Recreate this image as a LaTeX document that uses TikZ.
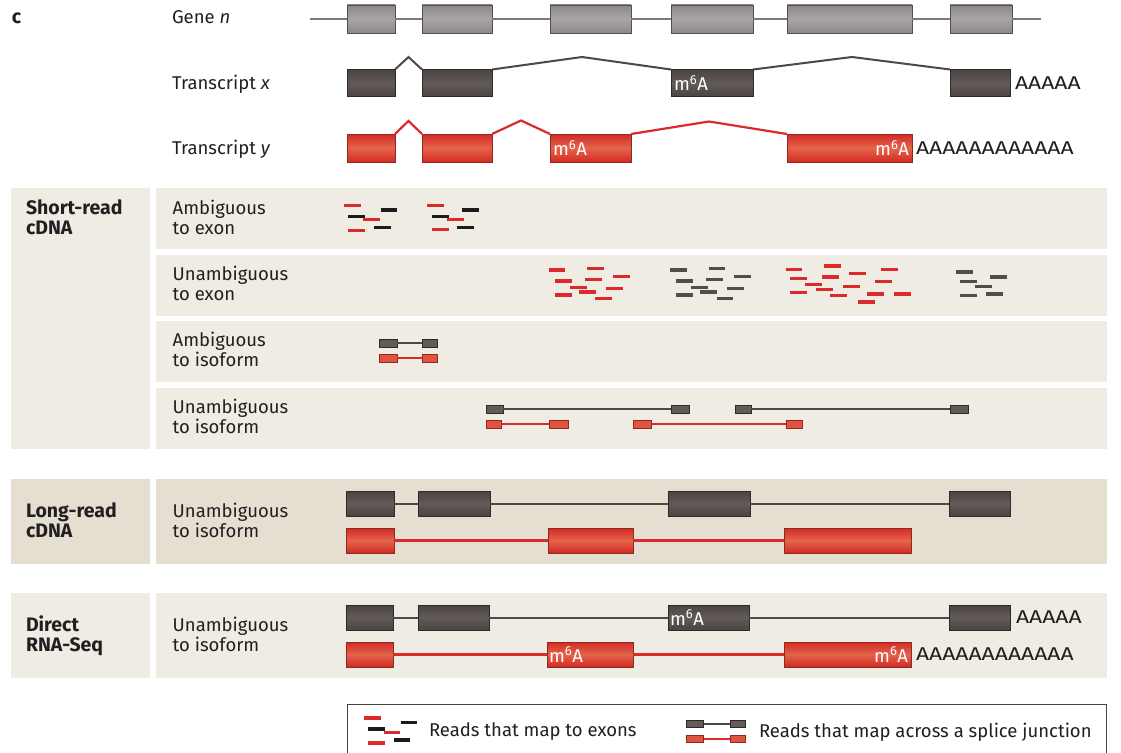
\documentclass[tikz,border=0pt]{standalone}
\usepackage{fontspec}
\usepackage{graphicx}
\setmainfont{Fira Sans}
\definecolor{panel}{HTML}{EFECE4}
\definecolor{panelB}{HTML}{E5DFD2}
\definecolor{txt}{HTML}{231F20}
\definecolor{gA}{HTML}{8C8887}\definecolor{gB}{HTML}{A9A5A4}\definecolor{gD}{HTML}{555151}
\definecolor{dA}{HTML}{4A4442}\definecolor{dB}{HTML}{625B58}\definecolor{dD}{HTML}{2E2A29}
\definecolor{rA}{HTML}{D22A24}\definecolor{rB}{HTML}{E4644C}\definecolor{rD}{HTML}{8E2A20}
\definecolor{lineG}{HTML}{7E7A79}
\definecolor{lineD}{HTML}{4E4846}
\definecolor{lineR}{HTML}{DA2A2A}
\definecolor{rdR}{HTML}{DC2A2C}
\definecolor{rdK}{HTML}{1C1B1B}
\definecolor{rdG}{HTML}{524C4A}
\newcommand\mainfs{\fontsize{18.5}{20}\selectfont}
\newcommand\boldfs{\fontsize{19.5}{20}\selectfont\bfseries}
\tikzset{
  every node/.style={font=\mainfs, text=txt, inner sep=0pt, outer sep=0pt},
  gexon/.style={draw=gD, line width=0.8pt, top color=gA, bottom color=gA, middle color=gB},
  dexon/.style={draw=dD, line width=0.8pt, top color=dA, bottom color=dA, middle color=dB},
  rexon/.style={draw=rD, line width=0.8pt, top color=rA, bottom color=rA, middle color=rB},
  sgbox/.style={draw=dD, line width=1pt, fill=dB},
  srbox/.style={draw=rD, line width=1pt, fill=rB!70!rA},
  gline/.style={lineG, line width=2pt},
  dline/.style={lineD, line width=2pt},
  rline/.style={lineR, line width=2.2pt},
  rdash/.style={rdR, line width=3.3pt},
  kdash/.style={rdK, line width=3.3pt},
  gdash/.style={rdG, line width=3.3pt},
  lbl/.style={anchor=base west, align=left},
  blbl/.style={anchor=base west, align=left, font=\boldfs},
  mlab/.style={text=white},
  polya/.style={anchor=west},
  legframe/.style={draw=txt!85, line width=1pt},
}
\newcommand\ex[6]{\node[#1, minimum width={#4-#3}, minimum height={#6-#5}] (#2) at ({(#3+#4)/2},{(#5+#6)/2}) {};}
\newcommand\dsh[3]{\draw[#1] (#2,#3) -- ++(16.5,0);}
\newcommand\patt[2]{\foreach \dx/\yy in {0/270,38.5/268.7,64.3/276.3,6.3/281,36.3/279.3,21.3/287.3,30.3/292,57.3/288.7,6.3/295,46.5/298.3}{\draw[#1] ({#2+\dx},\yy) -- ++(16.5,0);}}
\newcommand\msix{m\textsuperscript{6}A}
\newcommand\polyA[1]{\scalebox{1.24}[1]{#1}}
\begin{document}
\begin{tikzpicture}[x=1pt,y=-1pt]
\useasboundingbox (0,0) rectangle (1121,752);
% panels
\fill[panel] (11,188) rectangle (150,449);
\fill[panel] (156,188) rectangle (1107,249);
\fill[panel] (156,255) rectangle (1107,316);
\fill[panel] (156,321) rectangle (1107,382);
\fill[panel] (156,388) rectangle (1107,449);
\fill[panelB] (11,479) rectangle (150,564);
\fill[panelB] (156,479) rectangle (1107,564);
\fill[panel] (11,593) rectangle (150,678);
\fill[panel] (156,593) rectangle (1107,678);

% title / labels
\node[blbl] (c) at (12,24) {c};
\node[lbl] (lgene) at (172,24) {Gene \textit{n}};
\node[lbl] (ltx) at (172,89.5) {Transcript \textit{x}};
\node[lbl] (lty) at (172,154.5) {Transcript \textit{y}};

% gene n
\coordinate (gs) at (310,19);
\coordinate (ge) at (1041,19);
\ex{gexon}{g1}{347}{395}{5}{33}
\ex{gexon}{g2}{422}{492}{5}{33}
\ex{gexon}{g3}{550}{631}{5}{33}
\ex{gexon}{g4}{671}{753}{5}{33}
\ex{gexon}{g5}{787}{912}{5}{33}
\ex{gexon}{g6}{950}{1012}{5}{33}
\draw[gline] (gs) -- (g1.west) (g1.east) -- (g2.west) (g2.east) -- (g3.west) (g3.east) -- (g4.west) (g4.east) -- (g5.west) (g5.east) -- (g6.west) (g6.east) -- (ge);

% transcript x
\ex{dexon}{x1}{347}{395}{69.5}{96.5}
\ex{dexon}{x2}{422}{492}{69.5}{96.5}
\ex{dexon}{x3}{671}{753}{69.5}{96.5}
\ex{dexon}{x4}{950}{1010}{69.5}{96.5}
\coordinate (xp1) at (408.5,57);
\coordinate (xp2) at (582,57);
\coordinate (xp3) at (852,57);
\draw[dline, line join=miter] (x1.north east) -- (xp1) -- (x2.north west);
\draw[dline] (x2.north east) -- (xp2) -- (x3.north west);
\draw[dline] (x3.north east) -- (xp3) -- (x4.north west);
\node[mlab, anchor=west] (mx) at ([xshift=3pt]x3.west) {\msix};
\node[polya] (ax) at ([xshift=5pt]x4.east) {\polyA{AAAAA}};

% transcript y
\ex{rexon}{y1}{347}{395}{134}{162}
\ex{rexon}{y2}{422}{492}{134}{162}
\ex{rexon}{y3}{550}{631}{134}{162}
\ex{rexon}{y4}{787}{912}{134}{162}
\coordinate (yp1) at (408.5,121);
\coordinate (yp2) at (521,120.5);
\coordinate (yp3) at (709,121.5);
\draw[rline] (y1.north east) -- (yp1) -- (y2.north west);
\draw[rline] (y2.north east) -- (yp2) -- (y3.north west);
\draw[rline] (y3.north east) -- (yp3) -- (y4.north west);
\node[mlab, anchor=west] (my1) at ([xshift=3pt]y3.west) {\msix};
\node[mlab, anchor=east] (my2) at ([xshift=-3pt]y4.east) {\msix};
\node[polya] (ay) at ([xshift=4pt]y4.east) {\polyA{AAAAAAAAAAAA}};

% short-read labels
\node[blbl] (sr) at (26,234.3) {Short-read\\cDNA};
\node[lbl] (r1) at (172.7,234.7) {Ambiguous\\to exon};
\node[lbl] (r2) at (172.7,300.7) {Unambiguous\\to exon};
\node[lbl] (r3) at (172.7,366.7) {Ambiguous\\to isoform};
\node[lbl] (r4) at (172.7,433.3) {Unambiguous\\to isoform};

% ambiguous to exon reads
\dsh{rdash}{344}{205.7}\dsh{kdash}{380.7}{210}\dsh{kdash}{348}{216.7}
\dsh{rdash}{363}{219.7}\dsh{kdash}{374}{227.7}\dsh{rdash}{348}{230.7}
\dsh{rdash}{427}{205.7}\dsh{kdash}{462}{210}\dsh{kdash}{432}{216.7}
\dsh{rdash}{447}{219.7}\dsh{kdash}{457}{227.7}\dsh{rdash}{432}{229.3}

% unambiguous to exon reads
\patt{rdash}{548.7}
\patt{gdash}{670}
\foreach \xx/\yy in {785.7/269.3,824/266,849/273.7,881/269.3,790/278.7,822/277,875/281.7,805/284.7,843/286.3,816/289.3,790/292.7,830/295.7,867/294,894/294,858/302}{\draw[rdash] (\xx,\yy) -- ++(16.5,0);}
\foreach \xx/\yy in {956/272,990/277,960/281.3,975/286.3,960/295.7,986/294}{\draw[gdash] (\xx,\yy) -- ++(16.5,0);}

% ambiguous to isoform
\ex{sgbox}{a1}{379}{397}{339}{347.5}
\ex{sgbox}{a2}{422}{437}{339}{347.5}
\ex{srbox}{a3}{379}{397}{354}{362}
\ex{srbox}{a4}{422}{437}{354}{362}
\draw[dline] (a1) -- (a2);
\draw[rline] (a3) -- (a4);

% unambiguous to isoform
\ex{sgbox}{u1}{486}{503}{405}{413.5}
\ex{sgbox}{u2}{671}{689}{405}{413.5}
\ex{sgbox}{u3}{735}{751}{405}{413.5}
\ex{sgbox}{u4}{950}{968}{405}{413.5}
\ex{srbox}{u5}{486}{501}{420}{428}
\ex{srbox}{u6}{549}{568}{420}{428}
\ex{srbox}{u7}{633}{651}{420}{428}
\ex{srbox}{u8}{786}{802}{420}{428}
\draw[dline] (u1) -- (u2);
\draw[dline] (u3) -- (u4);
\draw[rline] (u5) -- (u6);
\draw[rline] (u7) -- (u8);

% long-read
\node[blbl] (lr) at (26,537) {Long-read\\cDNA};
\node[lbl] (l1) at (172.7,537.5) {Unambiguous\\to isoform};
\ex{dexon}{lg1}{346}{394}{491}{516}
\ex{dexon}{lg2}{418}{490}{491}{516}
\ex{dexon}{lg3}{668}{750}{491}{516}
\ex{dexon}{lg4}{949}{1010}{491}{516}
\draw[dline] (lg1) -- (lg2) (lg2) -- (lg3) (lg3) -- (lg4);
\ex{rexon}{lr1}{346}{394}{528}{553}
\ex{rexon}{lr2}{548}{633}{528}{553}
\ex{rexon}{lr3}{784}{911}{528}{553}
\draw[rline] (lr1) -- (lr2) (lr2) -- (lr3);

% direct RNA
\node[blbl] (dr) at (26,651) {Direct\\RNA-Seq};
\node[lbl] (d1) at (172.7,651.5) {Unambiguous\\to isoform};
\ex{dexon}{dg1}{346}{393}{605}{630}
\ex{dexon}{dg2}{418}{489}{605}{630}
\ex{dexon}{dg3}{668}{749}{605}{630}
\ex{dexon}{dg4}{949}{1010}{605}{630}
\draw[dline] (dg1) -- (dg2) (dg2) -- (dg3) (dg3) -- (dg4);
\node[mlab, anchor=west] (md1) at ([xshift=2pt]dg3.west) {\msix};
\node[polya] (ad1) at ([xshift=6pt]dg4.east) {\polyA{AAAAA}};
\ex{rexon}{dr1}{346}{393}{642}{667}
\ex{rexon}{dr2}{547}{633}{642}{667}
\ex{rexon}{dr3}{784}{911}{642}{667}
\draw[rline] (dr1) -- (dr2) (dr2) -- (dr3);
\node[mlab, anchor=west] (md2) at ([xshift=2pt]dr2.west) {\msix};
\node[mlab, anchor=east] (md3) at ([xshift=-3pt]dr3.east) {\msix};
\node[polya] (ad2) at ([xshift=5pt]dr3.east) {\polyA{AAAAAAAAAAAA}};

% legend (frame runs off the bottom edge)
\coordinate (lbl1) at (347.5,770);
\coordinate (lbr1) at (1106.5,770);
\draw[legframe] (lbl1) |- (1106.5,704.7) -- (lbr1);
\dsh{rdash}{364}{718}\dsh{kdash}{400.5}{722.7}\dsh{kdash}{368}{729}
\dsh{rdash}{383.5}{732.3}\dsh{kdash}{393.5}{740}\dsh{rdash}{368}{743}
\node[anchor=west] (lt1) at (429,732) {Reads that map to exons};
\ex{sgbox}{k1}{686.5}{703.5}{720.7}{727.3}
\ex{sgbox}{k2}{730}{745}{720.7}{727.3}
\ex{srbox}{k3}{686.5}{703.5}{735.7}{742.3}
\ex{srbox}{k4}{730}{745}{735.7}{742.3}
\draw[dline] (k1) -- (k2);
\draw[rline] (k3) -- (k4);
\node[anchor=west] (lt2) at (759,732) {Reads that map across a splice junction};
\end{tikzpicture}
\end{document}
